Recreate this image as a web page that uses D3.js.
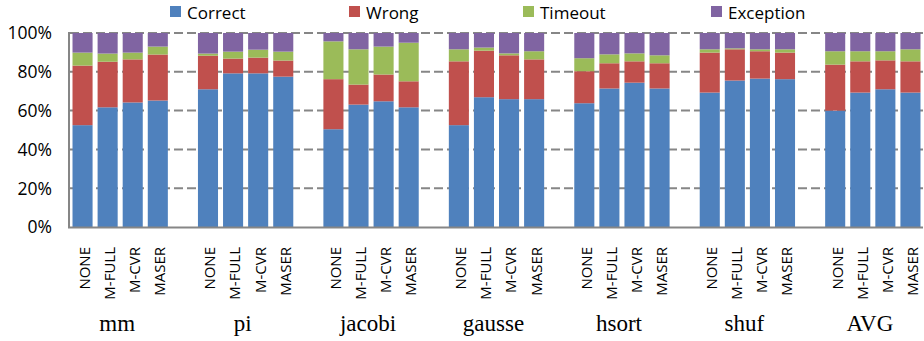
<!DOCTYPE html>
<html>
<head>
<meta charset="utf-8">
<script src="https://cdn.jsdelivr.net/npm/d3@7"></script>
<style>
  html, body { margin: 0; padding: 0; background: #fff; }
  svg { display: block; }
</style>
</head>
<body>
<svg id="chart" width="924" height="341"></svg>
<script>
// Benchmarks and analysis configurations
const benchmarks = ["mm", "pi", "jacobi", "gausse", "hsort", "shuf", "AVG"];
const configs = ["NONE", "M-FULL", "M-CVR", "MASER"];
const seriesNames = ["Correct", "Wrong", "Timeout", "Exception"];
const seriesColors = ["#4F81BD", "#C0504D", "#9BBB59", "#8064A2"];
const yTicks = [0, 20, 40, 60, 80, 100];

// Outcome shares (%), benchmark-major, config-minor order
const correct = [
  52.5, 61.7, 64.2, 65.2,
  71.0, 79.2, 79.2, 77.5,
  50.4, 63.1, 64.8, 61.7,
  52.5, 66.9, 65.9, 65.9,
  63.8, 71.4, 74.4, 71.4,
  69.3, 75.5, 76.5, 76.2,
  60.0, 69.3, 71.0, 69.3
];
const wrong = [
  30.7, 23.5, 22.2, 23.7,
  17.3, 7.6, 8.1, 8.3,
  25.8, 10.3, 13.8, 13.4,
  32.9, 24.0, 22.6, 20.5,
  16.5, 13.0, 11.0, 13.0,
  20.6, 16.1, 14.1, 13.7,
  23.7, 16.1, 14.9, 16.1
];
const timeout = [
  6.7, 4.2, 3.5, 4.1,
  1.1, 3.6, 4.1, 4.6,
  19.5, 18.2, 14.4, 19.9,
  6.2, 1.6, 1.0, 4.2,
  6.7, 4.6, 4.1, 4.1,
  1.7, 0.5, 1.0, 1.7,
  6.9, 5.2, 4.7, 6.2
];
const exception = [
  10.1, 10.6, 10.1, 7.0,
  10.6, 9.6, 8.6, 9.6,
  4.3, 8.4, 7.0, 5.0,
  8.4, 7.5, 10.5, 9.4,
  13.0, 11.0, 10.5, 11.5,
  8.4, 7.9, 8.4, 8.4,
  9.4, 9.4, 9.4, 8.4
];

// Flat records for stacking
const records = [];
benchmarks.forEach((b, bi) => {
  configs.forEach((c, ci) => {
    const i = bi * configs.length + ci;
    records.push({
      bench: b, config: c,
      Correct: correct[i], Wrong: wrong[i],
      Timeout: timeout[i], Exception: exception[i]
    });
  });
});

const svg = d3.select("#chart");
const plotLeft = 70, plotRight = 923, plotTop = 33, plotBottom = 227;
const slot = (plotRight - plotLeft) / 34;   // 4 bars + 1 spacer per benchmark
const sansFont = "'Open Sans', 'DejaVu Sans', sans-serif";

const xGroup = d3.scaleBand()
  .domain(benchmarks)
  .range([plotLeft, plotLeft + benchmarks.length * 5 * slot]);
const xInner = d3.scaleBand()
  .domain(configs)
  .range([0, 4 * slot])
  .paddingInner(0.2)
  .paddingOuter(0.1);
const y = d3.scaleLinear().domain([0, 100]).range([plotBottom, plotTop]);

// Dashed gridlines
svg.append("g")
  .selectAll("line")
  .data(yTicks.filter(t => t > 0))
  .join("line")
  .attr("x1", plotLeft).attr("x2", plotRight)
  .attr("y1", d => y(d)).attr("y2", d => y(d))
  .attr("stroke", "#868686")
  .attr("stroke-width", 2)
  .attr("stroke-dasharray", "9,4");

// Stacked bars
const stacked = d3.stack().keys(seriesNames)(records);
svg.append("g")
  .selectAll("g")
  .data(stacked)
  .join("g")
  .attr("fill", (d, i) => seriesColors[i])
  .selectAll("rect")
  .data(d => d)
  .join("rect")
  .attr("x", d => xGroup(d.data.bench) + xInner(d.data.config))
  .attr("width", xInner.bandwidth())
  .attr("y", d => y(d[1]))
  .attr("height", d => y(d[0]) - y(d[1]));

// Axis lines
svg.append("line")
  .attr("x1", plotLeft - 1).attr("x2", plotLeft - 1)
  .attr("y1", plotTop - 1).attr("y2", plotBottom + 1)
  .attr("stroke", "#868686").attr("stroke-width", 2);
svg.append("line")
  .attr("x1", plotLeft - 2).attr("x2", plotRight)
  .attr("y1", plotBottom + 0.5).attr("y2", plotBottom + 0.5)
  .attr("stroke", "#868686").attr("stroke-width", 2);

// Y tick labels
svg.append("g")
  .selectAll("text")
  .data(yTicks)
  .join("text")
  .attr("x", 52)
  .attr("y", d => y(d))
  .attr("dy", "0.36em")
  .attr("text-anchor", "end")
  .attr("font-family", sansFont)
  .attr("font-size", 17.5)
  .attr("fill", "#000")
  .text(d => d + "%");

// Rotated configuration labels
svg.append("g")
  .selectAll("text")
  .data(records)
  .join("text")
  .attr("transform", d => {
    const cx = xGroup(d.bench) + xInner(d.config) + xInner.bandwidth() / 2 + 2;
    return `translate(${cx},247) rotate(-90)`;
  })
  .attr("dy", "0.36em")
  .attr("text-anchor", "end")
  .attr("font-family", sansFont)
  .attr("font-size", 15)
  .attr("fill", "#000")
  .text(d => d.config);

// Benchmark names
svg.append("g")
  .selectAll("text")
  .data(benchmarks)
  .join("text")
  .attr("x", d => xGroup(d) + 2 * slot - 3)
  .attr("y", 331)
  .attr("text-anchor", "middle")
  .attr("font-family", "'Liberation Serif', 'Times New Roman', serif")
  .attr("font-size", 23)
  .attr("fill", "#000")
  .text(d => d);

// Legend
const legendX = [170, 349, 523, 711];
const legend = svg.append("g")
  .selectAll("g")
  .data(seriesNames)
  .join("g")
  .attr("transform", (d, i) => `translate(${legendX[i]},0)`);
legend.append("rect")
  .attr("x", 0).attr("y", 6)
  .attr("width", 11).attr("height", 11)
  .attr("fill", (d, i) => seriesColors[i]);
legend.append("text")
  .attr("x", 17).attr("y", 19)
  .attr("font-family", sansFont)
  .attr("font-size", 17)
  .attr("fill", "#000")
  .text(d => d);
</script>
</body>
</html>
